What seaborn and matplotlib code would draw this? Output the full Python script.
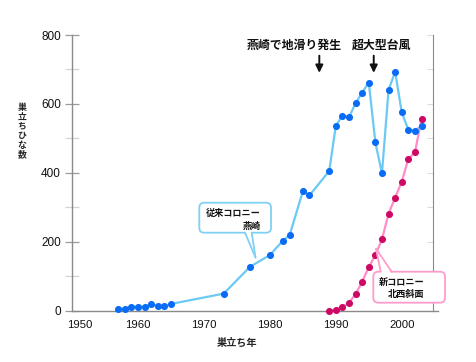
import matplotlib
matplotlib.use("Agg")
import matplotlib.pyplot as plt
import matplotlib.transforms as mtransforms
from matplotlib.patches import FancyBboxPatch, Polygon
from matplotlib.lines import Line2D
import seaborn as sns
import pandas as pd

# ---- data ----
old_years = [1957, 1958, 1959, 1960, 1961, 1962, 1963, 1964, 1965, 1973, 1977, 1980,
             1982, 1983, 1985, 1986, 1989, 1990, 1991, 1992, 1993, 1994, 1995, 1996,
             1997, 1998, 1999, 2000, 2001, 2002, 2003]
old_values = [5, 5, 11, 11, 11, 19, 12, 12, 19, 49, 127, 161,
              203, 219, 346, 334, 405, 536, 566, 561, 602, 633, 662, 488,
              398, 641, 693, 575, 525, 522, 537]
new_years = [1989, 1990, 1991, 1992, 1993, 1994, 1995, 1996, 1997, 1998, 1999, 2000,
             2001, 2002, 2003]
new_values = [0, 2, 9, 23, 47, 84, 126, 161, 207, 281, 328, 374, 440, 459, 556]
x_ticks = [1950, 1960, 1970, 1980, 1990, 2000]
y_ticks = [0, 200, 400, 600, 800]
event_years = [1987.5, 1995.75]
event_labels = ["燕崎で地滑り発生", "超大型台風"]
event_text_x = [1983.7, 1996.9]
old_label = "従来コロニー\n燕崎"
new_label = "新コロニー\n北西斜面"

old_df = pd.DataFrame({"year": old_years, "count": old_values})
new_df = pd.DataFrame({"year": new_years, "count": new_values})

sns.set_style("ticks")
plt.rcParams["font.family"] = ["Noto Sans CJK JP", "DejaVu Sans"]

W, H = 477, 362
fig = plt.figure(figsize=(W / 100, H / 100), dpi=100)
ax = fig.add_axes([72 / W, (H - 310.5) / H, (437.7 - 72) / W, (310.5 - 35) / H])

BLUE_LINE = "#6cc9f3"
BLUE_DOT = "#0a6cf5"
PINK_LINE = "#ff8cc8"
RED_DOT = "#cc0a66"

sns.lineplot(data=old_df, x="year", y="count", ax=ax, color=BLUE_LINE, lw=1.6,
             zorder=2, clip_on=False)
sns.scatterplot(data=old_df, x="year", y="count", ax=ax, color=BLUE_DOT, s=26,
                linewidth=0, zorder=3, clip_on=False)
sns.lineplot(data=new_df, x="year", y="count", ax=ax, color=PINK_LINE, lw=1.6,
             zorder=2, clip_on=False)
sns.scatterplot(data=new_df, x="year", y="count", ax=ax, color=RED_DOT, s=26,
                linewidth=0, zorder=3, clip_on=False)

ax.set_xlim(1950.4, 2005.45)
ax.set_ylim(0, 800)

# spines
for s in ["top", "right"]:
    ax.spines[s].set_visible(False)
ax.spines["left"].set_color("#8a8a8a")
ax.spines["bottom"].set_color("#8a8a8a")
ax.spines["left"].set_linewidth(1.0)
ax.spines["bottom"].set_linewidth(1.0)

ax.set_xticks(x_ticks)
ax.set_xticklabels([str(v) for v in x_ticks], family="Liberation Sans", fontsize=8.2,
                   color="#111111")
ax.set_yticks(y_ticks)
ax.set_yticklabels([str(v) for v in y_ticks], family="Liberation Sans", fontsize=8.5,
                   color="#111111")
ax.set_yticks([100, 300, 500, 700], minor=True)
ax.tick_params(axis="x", length=0, pad=7)
ax.tick_params(axis="y", which="major", direction="inout", length=10, width=0.9,
               color="#9a9a9a", pad=3)
ax.tick_params(axis="y", which="minor", direction="inout", length=10, width=0.9,
               color="#d4d4d4")

# shift 1950 label a bit right like the reference
lbl0 = ax.get_xticklabels()[0]
lbl0.set_transform(lbl0.get_transform() + mtransforms.ScaledTranslation(8 / 100, 0, fig.dpi_scale_trans))

# right-side axis line with faint inward ticks
ax2 = ax.twinx()
ax2.set_ylim(0, 800)
for s in ["top", "left", "bottom"]:
    ax2.spines[s].set_visible(False)
ax2.spines["right"].set_position(("data", 2004.7))
ax2.spines["right"].set_color("#8a8a8a")
ax2.set_yticks(range(100, 801, 100))
ax2.set_yticklabels([])
ax2.tick_params(axis="y", direction="in", length=4, color="#dddddd", width=0.8)

# axis labels
ax.set_xlabel("巣立ち年", fontsize=7.3, fontweight="bold", va="center")
ax.xaxis.set_label_coords((236.7 - 72) / 365.7, (310.5 - 342.7) / 275.5)
ax.set_ylabel("\n".join("巣立ちひな数"), rotation=0, fontsize=6.4, fontweight="bold",
              va="center", ha="center", linespacing=1.05)
ax.yaxis.set_label_coords((22 - 72) / 365.7, (310.5 - 131) / 275.5)

# event annotations
for ex, tx, lab in zip(event_years, event_text_x, event_labels):
    ax.text(tx, 771, lab, ha="center", va="center", fontsize=8.6, fontweight="bold",
            color="#111111")
    ax.annotate("", xy=(ex, 690), xytext=(ex, 740),
                arrowprops=dict(arrowstyle="-|>,head_length=0.45,head_width=0.22",
                                lw=1.4, color="#111111", shrinkA=0, shrinkB=0))

# callouts in pixel coordinates (image y from top)
ident = mtransforms.IdentityTransform()


def P(x, y):
    return (x, H - y)


def callout(box, base, tip, edge, text, text_xy):
    x0, y0, x1, y1 = box
    bx, by = P(x0, y1)
    patch = FancyBboxPatch((bx, by), x1 - x0, y1 - y0,
                           boxstyle="round,pad=0,rounding_size=5",
                           transform=ident, fc="white", ec=edge, lw=1.3, zorder=10)
    fig.add_artist(patch)
    (bl, br, yb, inside) = base
    cover = Polygon([P(bl, yb + inside), P(br, yb + inside), P(*tip)], closed=True,
                    transform=ident, fc="white", ec="none", zorder=11)
    fig.add_artist(cover)
    for bxx in (bl, br):
        a, b = P(bxx, yb), P(*tip)
        fig.add_artist(Line2D([a[0], b[0]], [a[1], b[1]], transform=ident, color=edge,
                              lw=1.3, zorder=12, solid_capstyle="round"))
    tx, ty = P(*text_xy)
    fig.text(tx, ty, text, transform=ident, ha="right", va="center",
             multialignment="right", fontsize=6.6, fontweight="bold", color="#111111",
             linespacing=1.45, zorder=13)


callout((199.3, 202.7, 271.0, 232.7), (245.0, 251.7, 232.7, -2.5), (255.5, 257.5),
        "#7fd0f5", old_label, (261, 219.5))
callout((373.3, 271.7, 445.0, 302.7), (380.7, 391.7, 271.7, 2.5), (376.0, 248.7),
        "#ff9ccc", new_label, (424.5, 288.5))

fig.savefig("out.png", dpi=100)
